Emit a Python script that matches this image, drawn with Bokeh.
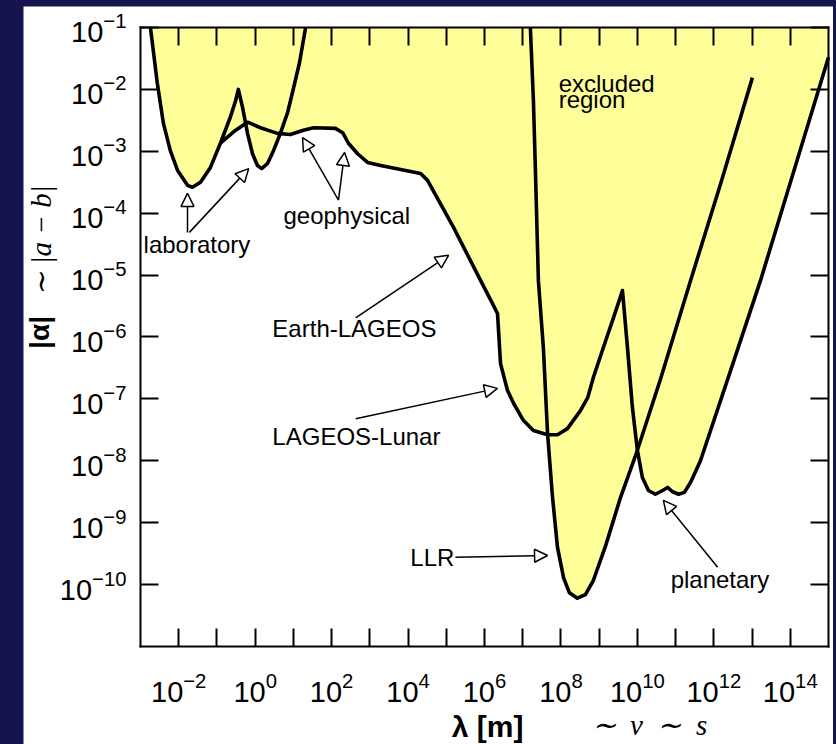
import math
from bokeh.plotting import figure
from bokeh.models import (FixedTicker, LogAxis, Label, Arrow, NormalHead,
                          CustomJSTickFormatter)
from bokeh.embed import file_html
from bokeh.resources import INLINE

NAVY = "#161450"
YELLOW = "#ffff99"

# ---- data (log10 lambda [m], log10 |alpha|) ----
lab_loglam = [-2.74, -2.56, -2.40, -2.22, -2.03, -1.77, -1.64, -1.43, -1.17, -0.91,
              -0.65, -0.51, -0.44, -0.33, -0.20, -0.07, 0.06, 0.17, 0.32, 0.48, 0.66,
              0.85, 1.00, 1.16, 1.32]
lab_logalpha = [-1.00, -1.90, -2.55, -2.99, -3.31, -3.55, -3.58, -3.50, -3.26, -2.87,
                -2.45, -2.18, -2.00, -2.29, -2.71, -3.04, -3.23, -3.28, -3.20, -2.99, -2.71,
                -2.37, -1.99, -1.57, -1.00]

# geophysical -> Earth-LAGEOS -> LAGEOS-Lunar -> planetary
geo_loglam = [-0.91, -0.51, -0.20, 0.14, 0.58, 0.92, 1.26, 1.53, 2.10, 2.29, 2.44, 2.68, 2.94,
              3.28, 4.33, 4.51, 5.19, 5.90, 6.21, 6.34, 6.42, 6.60, 6.76, 7.02, 7.28, 7.65,
              7.91, 8.17, 8.51, 8.70, 8.85, 9.11, 9.38, 9.61, 9.74, 9.87, 10.00, 10.13,
              10.29, 10.47, 10.66, 10.79, 10.92, 11.08, 11.23, 11.39, 11.65, 12.44, 13.22,
              15.00]
geo_logalpha = [-2.87, -2.66, -2.53, -2.62, -2.71, -2.73, -2.66, -2.62, -2.63, -2.70, -2.87,
                -3.04, -3.18, -3.23, -3.36, -3.47, -4.23, -5.09, -5.46, -5.62, -6.43, -6.86,
                -7.07, -7.35, -7.51, -7.58, -7.58, -7.48, -7.19, -6.98, -6.65, -6.17, -5.68,
                -5.25, -6.17, -7.14, -7.83, -8.27, -8.48, -8.54, -8.48, -8.43, -8.50, -8.54,
                -8.51, -8.35, -8.00, -6.54, -5.09, -1.48]

llr_loglam = [7.20, 7.28, 7.33, 7.41, 7.54, 7.65, 7.78, 7.91, 8.07, 8.22, 8.43, 8.64,
              8.85, 9.17, 9.56, 10.00, 10.61, 11.39, 12.18, 13.01]
llr_logalpha = [-1.00, -2.18, -3.26, -5.09, -6.17, -7.56, -8.59, -9.40, -9.89, -10.13,
                -10.22, -10.16, -9.93, -9.37, -8.59, -7.83, -6.67, -5.09, -3.52, -1.81]

X_MIN, X_MAX = -3, 15       # log10 lambda limits of the plot box
Y_MIN, Y_MAX = -11, -1      # log10 alpha limits of the plot box
x_major_exps = [-2, 0, 2, 4, 6, 8, 10, 12, 14]
x_minor_exps = [-1, 1, 3, 5, 7, 9, 11, 13]
y_major_exps = [-10, -9, -8, -7, -6, -5, -4, -3, -2, -1]

# annotations: text, log10 x, log10 y (left/baseline)
note_texts = ["laboratory", "geophysical", "Earth-LAGEOS", "LAGEOS-Lunar", "LLR",
              "planetary", "excluded", "region"]
note_lx = [-2.92, 0.74, 0.45, 0.45, 4.06, 10.87, 7.94, 7.94]
note_ly = [-4.50, -4.03, -5.87, -7.60, -9.56, -9.91, -1.91, -2.17]

# arrows: start (log x, log y) -> tip (log x, log y)
arrow_x0 = [-1.77, -1.72, 2.18, 2.18, 2.63, 2.63, 5.24, 12.10]
arrow_y0 = [-4.31, -4.31, -3.79, -3.79, -5.69, -7.32, -9.56, -9.72]
arrow_x1 = [-1.77, -0.17, 1.24, 2.34, 5.06, 6.34, 7.65, 10.68]
arrow_y1 = [-3.68, -3.28, -2.78, -3.02, -4.68, -6.83, -9.53, -8.64]


def pw(v):
    return [10.0 ** a for a in v]


# the frame covers the whole white panel; the axes sit at fixed locations
p = figure(width=810, height=738, x_axis_type="log", y_axis_type="log",
           x_range=(10 ** -6.061, 10 ** 15.131), y_range=(10 ** -12.583, 10 ** -0.661),
           title=None, output_backend="svg", toolbar_location=None,
           min_border=0, background_fill_color="white", border_fill_color="white")
p.grid.visible = False
p.outline_line_color = None

xticker = FixedTicker(ticks=pw(x_major_exps), minor_ticks=pw(x_minor_exps))
yticker = FixedTicker(ticks=pw(y_major_exps), minor_ticks=[])
xb = (10.0 ** X_MIN, 10.0 ** X_MAX)
yb = (10.0 ** Y_MIN, 10.0 ** Y_MAX)


def style_axis(ax, ticker, labels, loc, bounds):
    ax.ticker = ticker
    ax.fixed_location = loc
    ax.bounds = bounds
    ax.major_tick_in = 18
    ax.major_tick_out = 0
    ax.minor_tick_in = 18
    ax.minor_tick_out = 0
    ax.major_tick_line_width = 2
    ax.minor_tick_line_width = 2
    ax.major_tick_line_color = "black"
    ax.minor_tick_line_color = "black"
    ax.axis_line_width = 2
    ax.axis_line_color = "black"
    ax.axis_line_cap = "square"
    if labels:
        ax.major_label_text_font = "Liberation Sans"
        ax.major_label_text_font_size = "29px"
        ax.major_label_text_color = "black"
    else:
        ax.formatter = CustomJSTickFormatter(code="return ''")
        ax.major_label_text_font_size = "6px"
        ax.major_label_standoff = 0


style_axis(p.xaxis[0], xticker, True, 10.0 ** Y_MIN, xb)
style_axis(p.yaxis[0], yticker, True, 10.0 ** X_MIN, yb)
p.xaxis[0].major_label_standoff = 25
p.yaxis[0].major_label_standoff = 14

top_ax = LogAxis()
style_axis(top_ax, xticker, False, 10.0 ** Y_MAX, xb)
p.add_layout(top_ax, "above")
right_ax = LogAxis()
style_axis(right_ax, yticker, False, 10.0 ** X_MAX, yb)
p.add_layout(right_ax, "right")

# excluded region: union of the areas above each bound, closed along the box top
for lx, ly in [(lab_loglam, lab_logalpha), (geo_loglam, geo_logalpha),
               (llr_loglam, llr_logalpha)]:
    xs = pw(lx) + [10.0 ** lx[-1], 10.0 ** lx[0]]
    ys = pw(ly) + [10.0 ** Y_MAX, 10.0 ** Y_MAX]
    p.patch(xs, ys, fill_color=YELLOW, line_color=None)

for lx, ly in [(lab_loglam, lab_logalpha), (geo_loglam, geo_logalpha),
               (llr_loglam, llr_logalpha)]:
    p.line(pw(lx), pw(ly), line_color="black", line_width=3.6, line_join="round")

for t, lx, ly in zip(note_texts, note_lx, note_ly):
    p.add_layout(Label(x=10.0 ** lx, y=10.0 ** ly, text=t, text_font="Liberation Sans",
                       text_font_size="24px", text_color="black",
                       text_align="left", text_baseline="alphabetic"))

for x0, y0, x1, y1 in zip(arrow_x0, arrow_y0, arrow_x1, arrow_y1):
    p.add_layout(Arrow(end=NormalHead(size=13, fill_color="white", line_color="black",
                                      line_width=1.5),
                       x_start=10.0 ** x0, y_start=10.0 ** y0,
                       x_end=10.0 ** x1, y_end=10.0 ** y1,
                       line_color="black", line_width=1.5))

# axis titles
p.add_layout(Label(x=10.0 ** 6.08, y=10.0 ** -12.29, text="λ [m]",
                   text_font="Liberation Sans", text_font_style="bold",
                   text_font_size="30px", text_align="center",
                   text_baseline="middle", text_color="black"))
p.add_layout(Label(x=10.0 ** 8.80, y=10.0 ** -12.27, text="∼\u2002v\u2002∼\u2002s",
                   text_font="Liberation Serif", text_font_style="italic",
                   text_font_size="29px", text_align="left",
                   text_baseline="middle", text_color="black"))
p.add_layout(Label(x=10.0 ** -5.642, y=10.0 ** -5.927, text="|α|", angle=math.pi / 2,
                   text_font="Liberation Sans", text_font_style="bold",
                   text_font_size="28px", text_align="center",
                   text_baseline="middle", text_color="black"))
p.add_layout(Label(x=10.0 ** -5.616, y=10.0 ** -4.441, text="∼ |a − b|",
                   angle=math.pi / 2,
                   text_font="Liberation Serif", text_font_style="italic",
                   text_font_size="29px", text_align="center",
                   text_baseline="middle", text_color="black"))

html = file_html(p, INLINE, title="Excluded region")
html = html.replace(
    "</head>",
    "<style>html,body{margin:0;background:%s;overflow:hidden}"
    "body{padding:6px 0 0 23px}</style></head>" % NAVY, 1)
open("out.html", "w").write(html)
